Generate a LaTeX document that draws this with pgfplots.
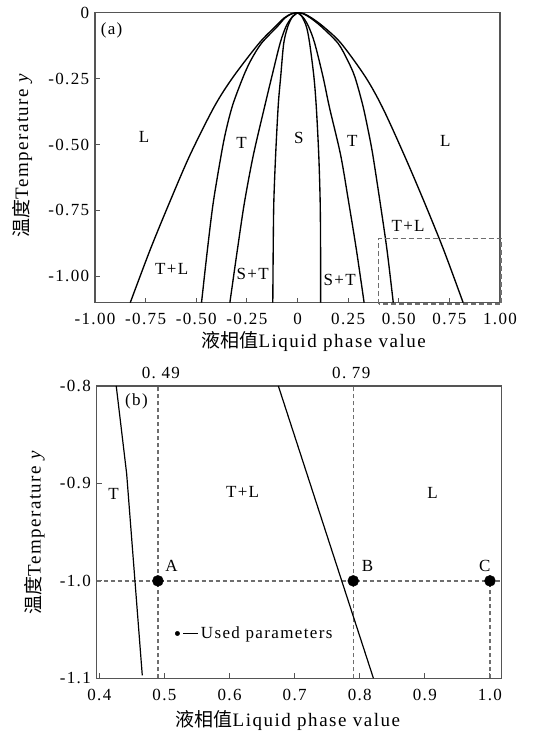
\documentclass[border=0pt]{standalone}
\usepackage{fontspec}
\setmainfont{Liberation Serif}[LetterSpace=8]
\newfontfamily\cjk{Noto Sans CJK SC}
\usepackage{pgfplots}
\pgfplotsset{compat=1.18}
\definecolor{axgray}{HTML}{555555}
\definecolor{dgray}{HTML}{6E6E6E}
\pgfplotsset{
  common/.style={
    scale only axis,
    anchor=south west,
    axis line style={draw=axgray, line width=1.3pt},
    tick align=inside,
    xtick pos=bottom, ytick pos=left,
    major tick length=5pt,
    tick style={draw=axgray, line width=1pt},
    tick label style={font=\fontsize{17}{19}\selectfont},
    xticklabel style={yshift=-5pt},
    label style={font=\fontsize{19}{21}\selectfont},
    clip=false,
  },
  curve/.style={black, line width=1.35pt, smooth, tension=0.5},
}
\begin{document}
\fontsize{17}{20}\selectfont
\begin{tikzpicture}[x=1pt,y=1pt]
% ---------------- (a) ----------------
\begin{axis}[common,
  width=405pt, height=290pt, at={(95pt,428.3pt)},
  xmin=-1, xmax=1, ymin=-1.1, ymax=0,
  xtick={-1,-0.75,-0.5,-0.25,0,0.25,0.5,0.75,1},
  xticklabels={-1.00,-0.75,-0.50,-0.25,0,0.25,0.50,0.75,1.00},
  ytick={0,-0.25,-0.5,-0.75,-1},
  yticklabels={0,-0.25,-0.50,-0.75,-1.00},
  xlabel={{\cjk 液相值}Liquid phase value},
  ylabel={{\cjk 温度}Temperature \textit{y}},
  xlabel style={at={(axis description cs:0.54,-0.134)}, anchor=center},
  ylabel style={at={(axis description cs:-0.18,0.509)}, anchor=center},
]
% left side
\addplot[curve] coordinates {(0,0) (-0.03,-0.004) (-0.066,-0.02) (-0.11,-0.053) (-0.19,-0.116) (-0.317,-0.243) (-0.41,-0.355) (-0.531,-0.54) (-0.632,-0.72) (-0.728,-0.9) (-0.826,-1.1)};
\addplot[curve] coordinates {(0,0) (-0.028,-0.004) (-0.062,-0.02) (-0.1,-0.053) (-0.178,-0.116) (-0.23,-0.18) (-0.268,-0.243) (-0.32,-0.35) (-0.354,-0.45) (-0.377,-0.54) (-0.416,-0.72) (-0.445,-0.9) (-0.474,-1.1)};
\addplot[curve] coordinates {(0,0) (-0.03,-0.02) (-0.057,-0.053) (-0.086,-0.116) (-0.127,-0.243) (-0.162,-0.355) (-0.218,-0.54) (-0.262,-0.72) (-0.297,-0.9) (-0.334,-1.1)};
\addplot[curve] coordinates {(0,0) (-0.025,-0.015) (-0.048,-0.053) (-0.068,-0.116) (-0.083,-0.243) (-0.095,-0.35) (-0.108,-0.54) (-0.117,-0.72) (-0.120,-0.9) (-0.122,-1.1)};
% right side
\addplot[curve] coordinates {(0,0) (0.02,-0.012) (0.044,-0.053) (0.060,-0.116) (0.081,-0.243) (0.093,-0.36) (0.105,-0.54) (0.112,-0.72) (0.114,-0.9) (0.114,-1.1)};
\addplot[curve] coordinates {(0,0) (0.028,-0.018) (0.055,-0.053) (0.085,-0.116) (0.126,-0.243) (0.158,-0.36) (0.213,-0.54) (0.253,-0.72) (0.291,-0.9) (0.329,-1.1)};
\addplot[curve] coordinates {(0,0) (0.028,-0.004) (0.064,-0.02) (0.118,-0.053) (0.2,-0.116) (0.247,-0.18) (0.283,-0.243) (0.322,-0.35) (0.35,-0.45) (0.372,-0.54) (0.408,-0.72) (0.442,-0.9) (0.473,-1.1)};
\addplot[curve] coordinates {(0,0) (0.032,-0.004) (0.07,-0.02) (0.128,-0.053) (0.215,-0.116) (0.335,-0.243) (0.42,-0.36) (0.527,-0.54) (0.627,-0.72) (0.722,-0.9) (0.818,-1.1)};
% zoom box
\addplot[dgray, line width=1.6pt, dash pattern=on 5pt off 3pt] coordinates {(0.4,-1.106) (0.4,-0.856) (1.006,-0.856) (1.006,-1.106) (0.4,-1.106)};
\node at (axis cs:-0.918,-0.066) {(a)};
\node at (axis cs:-0.758,-0.470) {L};
\node at (axis cs:-0.276,-0.495) {T};
\node at (axis cs:0.007,-0.474) {S};
\node at (axis cs:0.271,-0.487) {T};
\node at (axis cs:0.730,-0.487) {L};
\node at (axis cs:-0.621,-0.972) {T+L};
\node at (axis cs:-0.221,-0.991) {S+T};
\node at (axis cs:0.208,-1.014) {S+T};
\node at (axis cs:0.546,-0.809) {T+L};
\end{axis}
% ---------------- (b) ----------------
\begin{axis}[common,
  width=405pt, height=292.3pt, at={(96.7pt,52.7pt)},
  xmin=0.396, xmax=1.018, ymin=-1.1, ymax=-0.8,
  xtick={0.4,0.5,0.6,0.7,0.8,0.9,1.0},
  xticklabels={0.4,0.5,0.6,0.7,0.8,0.9,1.0},
  ytick={-0.8,-0.9,-1.0,-1.1},
  yticklabels={-0.8,-0.9,-1.0,-1.1},
  xlabel={{\cjk 液相值}Liquid phase value},
  ylabel={{\cjk 温度}Temperature \textit{y}},
  xlabel style={at={(axis description cs:0.472,-0.143)}, anchor=center},
  ylabel style={at={(axis description cs:-0.153,0.50)}, anchor=center},
  legend style={at={(axis cs:0.516,-1.054)}, anchor=west, draw=none, fill=none,
    font=\fontsize{17}{20}\selectfont, inner sep=0pt},
]
\addlegendimage{legend image code/.code={\fill[black] (1pt,0pt) circle (2.2pt); \draw[black, line width=1.1pt] (7pt,0pt) -- (22pt,0pt);}}
\addlegendentry{Used parameters}
\addplot[dgray, line width=1.4pt, dash pattern=on 4pt off 3pt] coordinates {(0.396,-1.0) (1.018,-1.0)};
\addplot[dgray, line width=1.4pt, dash pattern=on 4pt off 3pt] coordinates {(0.49,-1.1) (0.49,-0.8)};
\addplot[dgray, line width=1.4pt, dash pattern=on 4pt off 3pt] coordinates {(0.79,-1.1) (0.79,-0.8)};
\addplot[dgray, line width=1.4pt, dash pattern=on 4pt off 3pt] coordinates {(1.0,-1.1) (1.0,-1.0)};
\addplot[black, line width=1.2pt] coordinates {(0.426,-0.8) (0.442,-0.89) (0.466,-1.097)};
\addplot[black, line width=1.2pt] coordinates {(0.675,-0.8) (0.821,-1.1)};
\addplot[only marks, mark=*, mark size=5.5pt, black] coordinates {(0.49,-1.0) (0.79,-1.0) (1.0,-1.0)};
\node at (axis cs:0.457,-0.816) {(b)};
\node at (axis cs:0.422,-0.911) {T};
\node at (axis cs:0.620,-0.909) {T+L};
\node at (axis cs:0.912,-0.910) {L};
\node at (axis cs:0.511,-0.985) {A};
\node at (axis cs:0.812,-0.985) {B};
\node at (axis cs:0.992,-0.985) {C};
\node[anchor=south, font=\fontsize{17}{19}\selectfont, yshift=1pt, xshift=3pt] at (axis cs:0.49,-0.8) {0.\ 49};
\node[anchor=south, font=\fontsize{17}{19}\selectfont, yshift=1pt, xshift=-2pt] at (axis cs:0.79,-0.8) {0.\ 79};
\end{axis}
\pgfresetboundingbox
\path[use as bounding box] (0,0) rectangle (534pt,731pt);
\end{tikzpicture}
\end{document}
